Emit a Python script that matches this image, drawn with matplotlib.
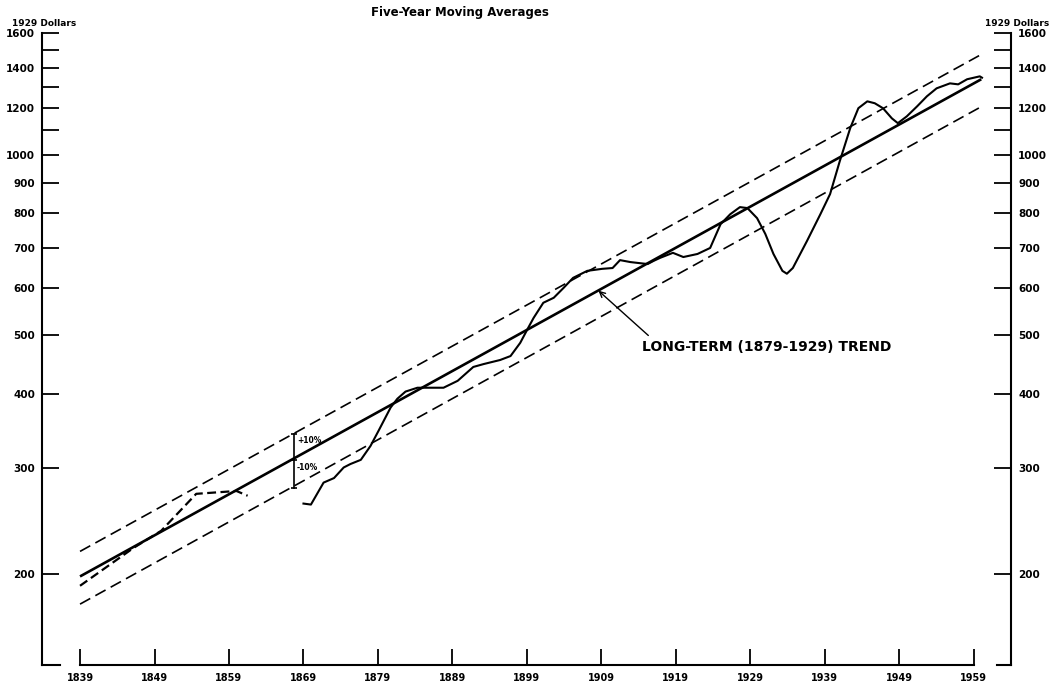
import matplotlib
matplotlib.use("Agg")
import matplotlib.pyplot as plt

# long-term (1879-1929) trend and the +/-10% band, end points
trend_years = [1839, 1960]
trend_vals = [198, 1339]
upper_vals = [218, 1473]
lower_vals = [178, 1205]

# early estimates, dashed
early_years = [1839, 1846.2, 1849.9, 1854.6, 1860.0, 1861.5]
early_vals = [191, 221, 236, 272, 275, 270]

# five-year moving averages, 1869-1959
main_years = [1869.0, 1870.0, 1871.7, 1873.1, 1874.4, 1875.3, 1876.7, 1878.0, 1879.1,
              1880.7, 1881.6, 1882.7, 1884.3, 1887.8, 1889.7, 1891.8, 1893.2, 1895.4,
              1896.8, 1898.1, 1899.1, 1899.9, 1901.2, 1902.6, 1903.9, 1905.2, 1907.1,
              1909.1, 1910.5, 1911.5, 1912.9, 1915.2, 1916.0, 1916.9, 1918.6, 1920.0,
              1921.9, 1923.6, 1925.0, 1926.3, 1927.6, 1928.6, 1929.9, 1931.0, 1932.1,
              1933.3, 1933.9, 1934.7, 1936.6, 1938.4, 1939.7, 1941.0, 1942.4, 1943.5,
              1944.7, 1945.7, 1946.8, 1948.0, 1948.8, 1950.0, 1951.4, 1952.7, 1954.0,
              1955.8, 1956.9, 1958.1, 1959.8, 1960.1]
main_vals = [262, 261, 284, 289, 301, 305, 310, 327, 347,
             379, 392, 403, 409, 409, 420, 443, 448, 455,
             462, 486, 513, 535, 567, 578, 600, 624, 641,
             646, 648, 668, 663, 658, 666, 674, 687, 676,
             684, 700, 767, 797, 819, 816, 785, 739, 684,
             641, 634, 648, 719, 797, 861, 977, 1109, 1198,
             1230, 1221, 1198, 1152, 1131, 1161, 1207, 1254, 1293,
             1318, 1313, 1339, 1354, 1347]

x_ticks = list(range(1839, 1960, 10))
y_ticks = [200, 300, 400, 500, 600, 700, 800, 900, 1000, 1100, 1200, 1300, 1400, 1500, 1600]
y_labels = ["200", "300", "400", "500", "600", "700", "800", "900", "1000",
            "", "1200", "", "1400", "", "1600"]

# +/-10% marker
band_mark_year = 1867.7
band_mark_vals = [343, 310, 278]

plt.rcParams["font.family"] = "DejaVu Sans"
plt.rcParams["font.weight"] = "bold"

fig = plt.figure(figsize=(10.51, 6.86), dpi=100)
ax = fig.add_axes([0.040, 0.031, 0.922, 0.921])
ax.set_yscale("log")
ax.set_xlim(1833.9, 1964.0)
ax.set_ylim(141, 1600)

ax.plot(trend_years, trend_vals, color="black", lw=1.9, solid_capstyle="butt")
ax.plot(trend_years, upper_vals, color="black", lw=1.2, dashes=(7, 3.5))
ax.plot(trend_years, lower_vals, color="black", lw=1.2, dashes=(7, 3.5))
ax.plot(early_years, early_vals, color="black", lw=1.6, dashes=(4, 2))
ax.plot(main_years, main_vals, color="black", lw=1.5)

# +/-10% bar
ax.plot([band_mark_year, band_mark_year], [band_mark_vals[0], band_mark_vals[2]],
        color="black", lw=1.2)
ax.plot([band_mark_year] * 3, band_mark_vals, color="black", lw=0,
        marker="_", markersize=4, markeredgewidth=1.2)
ax.text(band_mark_year + 0.4, 334, "+10%", fontsize=5.5, va="center", ha="left")
ax.text(band_mark_year + 0.4, 301, "-10%", fontsize=5.5, va="center", ha="left")

# trend label
ax.annotate("", xy=(1908.6, 594), xytext=(1915.3, 500),
            arrowprops=dict(arrowstyle="->", color="black", lw=1.0,
                            shrinkA=0, shrinkB=0))
ax.text(1914.4, 479, "LONG-TERM (1879-1929) TREND", fontsize=10, va="center", ha="left")

# axes
ax.yaxis.set_major_locator(plt.FixedLocator(y_ticks))
ax.yaxis.set_major_formatter(plt.FixedFormatter(y_labels))
ax.yaxis.set_minor_locator(plt.NullLocator())
ax.set_xticks(x_ticks)
ax.set_xticklabels([str(y) for y in x_ticks])
ax.tick_params(axis="y", which="both", direction="in", length=12, width=1.3,
               labelsize=7.5, pad=5, left=True, right=True, labelleft=True, labelright=True)
ax.tick_params(axis="x", direction="in", length=11.5, width=1.3, labelsize=7, pad=6)

ax.spines["top"].set_visible(False)
for s in ["left", "right", "bottom"]:
    ax.spines[s].set_linewidth(1.5)
ax.spines["bottom"].set_bounds(1839, 1959)
# corner stubs of the bottom frame
ax.plot([1833.9, 1836.3], [141, 141], color="black", lw=1.5, clip_on=False)
ax.plot([1962.1, 1964.0], [141, 141], color="black", lw=1.5, clip_on=False)

fig.text(0.438, 0.982, "Five-Year Moving Averages", fontsize=8.5, ha="center", va="center")
fig.text(0.011, 0.966, "1929 Dollars", fontsize=6.5, ha="left", va="center")
fig.text(0.998, 0.966, "1929 Dollars", fontsize=6.5, ha="right", va="center")

fig.savefig("out.png", dpi=100)
